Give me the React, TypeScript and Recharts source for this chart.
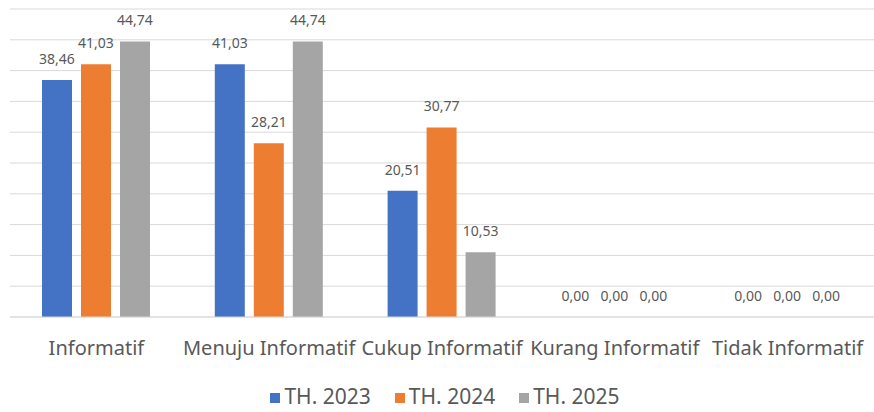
import { BarChart, Bar, XAxis, YAxis, CartesianGrid, Legend, LabelList } from "recharts";

const categories = ["Informatif", "Menuju Informatif", "Cukup Informatif", "Kurang Informatif", "Tidak Informatif"];
const th2023 = [38.46, 41.03, 20.51, 0, 0];
const th2024 = [41.03, 28.21, 30.77, 0, 0];
const th2025 = [44.74, 44.74, 10.53, 0, 0];
const yTicks = [0, 5, 10, 15, 20, 25, 30, 35, 40, 45, 50];

const data = categories.map((name, i) => ({
    name,
    th2023: th2023[i],
    th2024: th2024[i],
    th2025: th2025[i],
}));

const FONT = "'Noto Sans', sans-serif";
const TEXT = "#595959";

const fmt = (v: unknown) => (typeof v === "number" ? v.toFixed(2).replace(".", ",") : "");

export default function App() {
    return (
        <div style={{ position: "absolute", left: 0, top: 0, width: 874, height: 412, background: "#fff", fontFamily: FONT }}>
            <BarChart
                width={874}
                height={412}
                data={data}
                margin={{ top: 9, right: 0, left: 10, bottom: 37 }}
                barSize={30}
                barGap={9}
            >
                <CartesianGrid vertical={false} stroke="#d9d9d9" />
                <YAxis hide domain={[0, 50]} ticks={yTicks} />
                <XAxis
                    dataKey="name"
                    height={30}
                    axisLine={{ stroke: "#d9d9d9" }}
                    tickLine={false}
                    tickMargin={18}
                    interval={0}
                    tick={{ fill: TEXT, fontSize: 20, fontFamily: FONT }}
                />
                <Legend
                    verticalAlign="bottom"
                    iconType="square"
                    iconSize={10}
                    wrapperStyle={{ bottom: 2, left: 25, fontSize: 21, fontFamily: FONT }}
                    formatter={(value) => <span style={{ color: TEXT, paddingRight: 14 }}>{value}</span>}
                />
                <Bar dataKey="th2023" name="TH. 2023" fill="#4472C4" minPointSize={0.001} isAnimationActive={false}>
                    <LabelList dataKey="th2023" position="top" offset={16} formatter={fmt} fill={TEXT} fontSize={14} fontFamily={FONT} />
                </Bar>
                <Bar dataKey="th2024" name="TH. 2024" fill="#ED7D31" minPointSize={0.001} isAnimationActive={false}>
                    <LabelList dataKey="th2024" position="top" offset={16} formatter={fmt} fill={TEXT} fontSize={14} fontFamily={FONT} />
                </Bar>
                <Bar dataKey="th2025" name="TH. 2025" fill="#A5A5A5" minPointSize={0.001} isAnimationActive={false}>
                    <LabelList dataKey="th2025" position="top" offset={16} formatter={fmt} fill={TEXT} fontSize={14} fontFamily={FONT} />
                </Bar>
            </BarChart>
        </div>
    );
}
